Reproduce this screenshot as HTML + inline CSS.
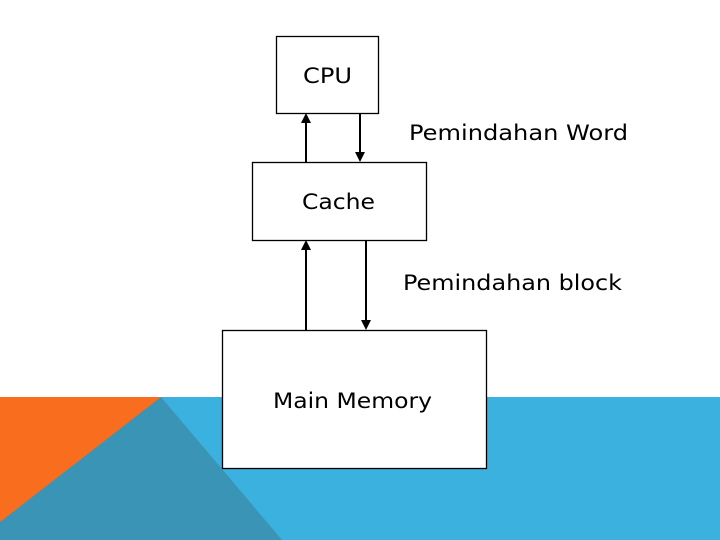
<!DOCTYPE html>
<html><head><style>body{margin:0}svg{display:block}</style></head><body>
<svg width="720" height="540" xmlns="http://www.w3.org/2000/svg" font-family="DejaVu Sans, Verdana, sans-serif" font-size="21">
<rect width="720" height="540" fill="#fff"/>
<rect x="0" y="397" width="720" height="143" fill="#3ab1df"/>
<polygon points="0,397 161,397 0,522" fill="#f96d1f"/>
<polygon points="161,397 282,540 0,540 0,522" fill="#3a94b5"/>
<g fill="#fff" stroke="#000" stroke-width="1.3">
<rect x="276.5" y="36.5" width="102" height="77"/>
<rect x="252.5" y="162.5" width="174" height="78"/>
<rect x="222.5" y="330.5" width="264" height="138"/>
</g>
<g stroke="#000" stroke-width="2">
<line x1="306" y1="162" x2="306" y2="122"/>
<line x1="360" y1="113" x2="360" y2="153"/>
<line x1="306" y1="330" x2="306" y2="249"/>
<line x1="366" y1="240" x2="366" y2="321"/>
</g>
<g fill="#000">
<polygon points="306,113 301,123 311,123"/>
<polygon points="360,162 355,152 365,152"/>
<polygon points="306,240 301,250 311,250"/>
<polygon points="366,330 361,320 371,320"/>
</g>
<g fill="#000">
<text x="303" y="83" textLength="49" lengthAdjust="spacingAndGlyphs">CPU</text>
<text x="409" y="140" textLength="219" lengthAdjust="spacingAndGlyphs">Pemindahan Word</text>
<text x="302" y="209" textLength="73" lengthAdjust="spacingAndGlyphs">Cache</text>
<text x="403" y="290" textLength="219" lengthAdjust="spacingAndGlyphs">Pemindahan block</text>
<text x="273" y="408" textLength="159" lengthAdjust="spacingAndGlyphs">Main Memory</text>
</g>
</svg>
</body></html>
